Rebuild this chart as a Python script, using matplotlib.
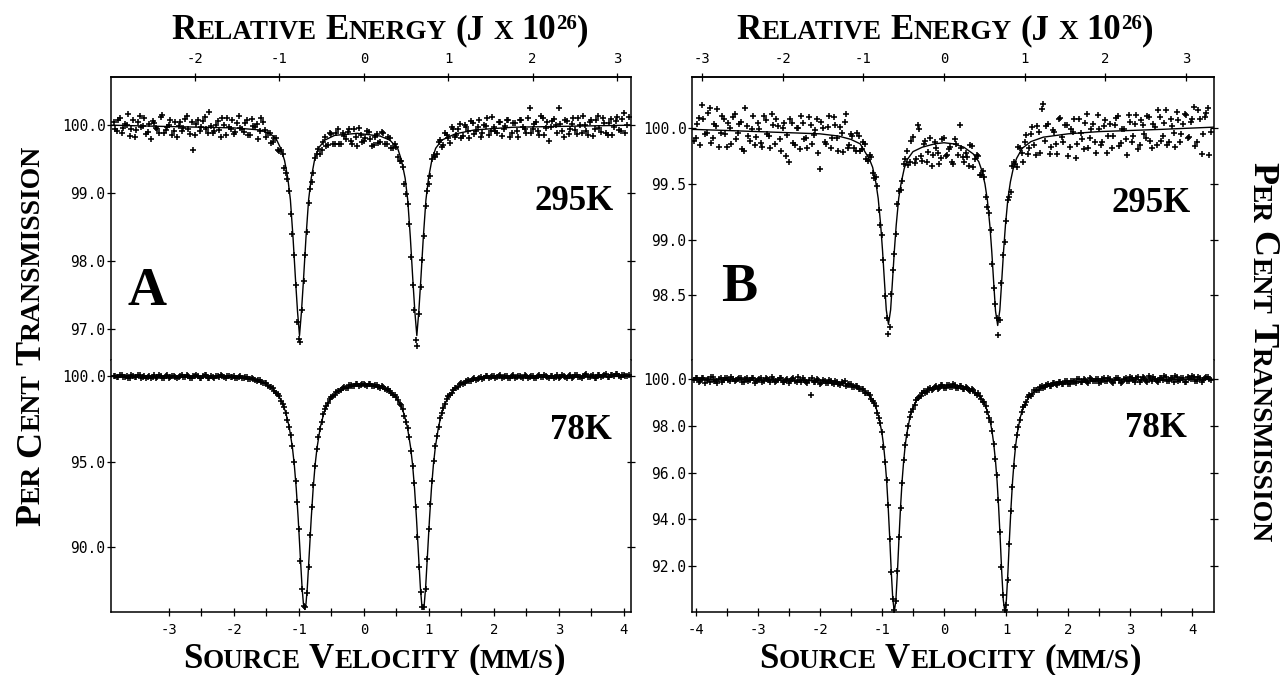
import matplotlib
matplotlib.use("Agg")
import matplotlib.pyplot as plt
import numpy as np
from matplotlib.ticker import FixedLocator, FormatStrFormatter
from matplotlib.transforms import IdentityTransform

# --- data ---------------------------------------------------------------------
# channel velocities (mm/s): two interleaved halves of the spectrum, panels A and B
VEL_A = [-3.85, -3.80, -3.75, -3.70, -3.65, -3.60, -3.55, -3.50, -3.45, -3.40,
         -3.35, -3.30, -3.25, -3.20, -3.15, -3.10, -3.05, -3.00, -2.95, -2.90,
         -2.85, -2.80, -2.75, -2.70, -2.65, -2.60, -2.55, -2.50, -2.45, -2.40,
         -2.35, -2.30, -2.25, -2.20, -2.15, -2.10, -2.05, -2.00, -1.95, -1.90,
         -1.85, -1.80, -1.75, -1.70, -1.65, -1.60, -1.55, -1.50, -1.45, -1.40,
         -1.35, -1.30, -1.25, -1.20, -1.15, -1.10, -1.05, -1.00, -0.95, -0.90,
         -0.85, -0.80, -0.75, -0.70, -0.65, -0.60, -0.55, -0.50, -0.45, -0.40,
         -0.35, -0.30, -0.25, -0.20, -0.15, -0.10, -0.05, 0.00, 0.05, 0.10,
         0.15, 0.20, 0.25, 0.30, 0.35, 0.40, 0.45, 0.50, 0.55, 0.60,
         0.65, 0.70, 0.75, 0.80, 0.85, 0.90, 0.95, 1.00, 1.05, 1.10,
         1.15, 1.20, 1.25, 1.30, 1.35, 1.40, 1.45, 1.50, 1.55, 1.60,
         1.65, 1.70, 1.75, 1.80, 1.85, 1.90, 1.95, 2.00, 2.05, 2.10,
         2.15, 2.20, 2.25, 2.30, 2.35, 2.40, 2.45, 2.50, 2.55, 2.60,
         2.65, 2.70, 2.75, 2.80, 2.85, 2.90, 2.95, 3.00, 3.05, 3.10,
         3.15, 3.20, 3.25, 3.30, 3.35, 3.40, 3.45, 3.50, 3.55, 3.60,
         3.65, 3.70, 3.75, 3.80, 3.85, 3.90, 3.95, 4.00, 4.05]
VEL_A2 = [-3.825, -3.775, -3.725, -3.675, -3.625, -3.575, -3.525, -3.475, -3.425, -3.375,
          -3.325, -3.275, -3.225, -3.175, -3.125, -3.075, -3.025, -2.975, -2.925, -2.875,
          -2.825, -2.775, -2.725, -2.675, -2.625, -2.575, -2.525, -2.475, -2.425, -2.375,
          -2.325, -2.275, -2.225, -2.175, -2.125, -2.075, -2.025, -1.975, -1.925, -1.875,
          -1.825, -1.775, -1.725, -1.675, -1.625, -1.575, -1.525, -1.475, -1.425, -1.375,
          -1.325, -1.275, -1.225, -1.175, -1.125, -1.075, -1.025, -0.975, -0.925, -0.875,
          -0.825, -0.775, -0.725, -0.675, -0.625, -0.575, -0.525, -0.475, -0.425, -0.375,
          -0.325, -0.275, -0.225, -0.175, -0.125, -0.075, -0.025, 0.025, 0.075, 0.125,
          0.175, 0.225, 0.275, 0.325, 0.375, 0.425, 0.475, 0.525, 0.575, 0.625,
          0.675, 0.725, 0.775, 0.825, 0.875, 0.925, 0.975, 1.025, 1.075, 1.125,
          1.175, 1.225, 1.275, 1.325, 1.375, 1.425, 1.475, 1.525, 1.575, 1.625,
          1.675, 1.725, 1.775, 1.825, 1.875, 1.925, 1.975, 2.025, 2.075, 2.125,
          2.175, 2.225, 2.275, 2.325, 2.375, 2.425, 2.475, 2.525, 2.575, 2.625,
          2.675, 2.725, 2.775, 2.825, 2.875, 2.925, 2.975, 3.025, 3.075, 3.125,
          3.175, 3.225, 3.275, 3.325, 3.375, 3.425, 3.475, 3.525, 3.575, 3.625,
          3.675, 3.725, 3.775, 3.825, 3.875, 3.925, 3.975, 4.025, 4.075]

VEL_B = [-4.00, -3.95, -3.90, -3.85, -3.80, -3.75, -3.70, -3.65, -3.60, -3.55,
         -3.50, -3.45, -3.40, -3.35, -3.30, -3.25, -3.20, -3.15, -3.10, -3.05,
         -3.00, -2.95, -2.90, -2.85, -2.80, -2.75, -2.70, -2.65, -2.60, -2.55,
         -2.50, -2.45, -2.40, -2.35, -2.30, -2.25, -2.20, -2.15, -2.10, -2.05,
         -2.00, -1.95, -1.90, -1.85, -1.80, -1.75, -1.70, -1.65, -1.60, -1.55,
         -1.50, -1.45, -1.40, -1.35, -1.30, -1.25, -1.20, -1.15, -1.10, -1.05,
         -1.00, -0.95, -0.90, -0.85, -0.80, -0.75, -0.70, -0.65, -0.60, -0.55,
         -0.50, -0.45, -0.40, -0.35, -0.30, -0.25, -0.20, -0.15, -0.10, -0.05,
         0.00, 0.05, 0.10, 0.15, 0.20, 0.25, 0.30, 0.35, 0.40, 0.45,
         0.50, 0.55, 0.60, 0.65, 0.70, 0.75, 0.80, 0.85, 0.90, 0.95,
         1.00, 1.05, 1.10, 1.15, 1.20, 1.25, 1.30, 1.35, 1.40, 1.45,
         1.50, 1.55, 1.60, 1.65, 1.70, 1.75, 1.80, 1.85, 1.90, 1.95,
         2.00, 2.05, 2.10, 2.15, 2.20, 2.25, 2.30, 2.35, 2.40, 2.45,
         2.50, 2.55, 2.60, 2.65, 2.70, 2.75, 2.80, 2.85, 2.90, 2.95,
         3.00, 3.05, 3.10, 3.15, 3.20, 3.25, 3.30, 3.35, 3.40, 3.45,
         3.50, 3.55, 3.60, 3.65, 3.70, 3.75, 3.80, 3.85, 3.90, 3.95,
         4.00, 4.05, 4.10, 4.15, 4.20, 4.25, 4.30]
VEL_B2 = [-4.025, -3.975, -3.925, -3.875, -3.825, -3.775, -3.725, -3.675, -3.625, -3.575,
          -3.525, -3.475, -3.425, -3.375, -3.325, -3.275, -3.225, -3.175, -3.125, -3.075,
          -3.025, -2.975, -2.925, -2.875, -2.825, -2.775, -2.725, -2.675, -2.625, -2.575,
          -2.525, -2.475, -2.425, -2.375, -2.325, -2.275, -2.225, -2.175, -2.125, -2.075,
          -2.025, -1.975, -1.925, -1.875, -1.825, -1.775, -1.725, -1.675, -1.625, -1.575,
          -1.525, -1.475, -1.425, -1.375, -1.325, -1.275, -1.225, -1.175, -1.125, -1.075,
          -1.025, -0.975, -0.925, -0.875, -0.825, -0.775, -0.725, -0.675, -0.625, -0.575,
          -0.525, -0.475, -0.425, -0.375, -0.325, -0.275, -0.225, -0.175, -0.125, -0.075,
          -0.025, 0.025, 0.075, 0.125, 0.175, 0.225, 0.275, 0.325, 0.375, 0.425,
          0.475, 0.525, 0.575, 0.625, 0.675, 0.725, 0.775, 0.825, 0.875, 0.925,
          0.975, 1.025, 1.075, 1.125, 1.175, 1.225, 1.275, 1.325, 1.375, 1.425,
          1.475, 1.525, 1.575, 1.625, 1.675, 1.725, 1.775, 1.825, 1.875, 1.925,
          1.975, 2.025, 2.075, 2.125, 2.175, 2.225, 2.275, 2.325, 2.375, 2.425,
          2.475, 2.525, 2.575, 2.625, 2.675, 2.725, 2.775, 2.825, 2.875, 2.925,
          2.975, 3.025, 3.075, 3.125, 3.175, 3.225, 3.275, 3.325, 3.375, 3.425,
          3.475, 3.525, 3.575, 3.625, 3.675, 3.725, 3.775, 3.825, 3.875, 3.925,
          3.975, 4.025, 4.075, 4.125, 4.175, 4.225, 4.275]

# per cent transmission, measured points (first and second half)
A295 = [100.04, 99.91, 100.11, 99.96, 100.01, 99.84, 100.08, 99.93, 100.13, 99.99,
        99.87, 100.02, 100.06, 99.96, 99.89, 100.15, 99.93, 100.01, 99.85, 100.05,
        99.99, 99.91, 100.09, 99.94, 100.04, 99.86, 100.08, 99.97, 100.12, 99.89,
        99.99, 99.92, 100.06, 99.83, 100.01, 100.10, 99.94, 99.87, 100.03, 99.96,
        99.90, 100.08, 99.86, 99.99, 100.02, 99.91, 100.04, 99.83, 99.89, 99.75,
        99.81, 99.62, 99.58, 99.29, 99.03, 98.40, 97.65, 96.85, 97.28, 98.08,
        98.85, 99.16, 99.51, 99.65, 99.63, 99.83, 99.71, 99.87, 99.73, 99.94,
        99.73, 99.84, 99.90, 99.77, 99.95, 99.69, 99.85, 99.76, 99.92, 99.79,
        99.71, 99.87, 99.75, 99.89, 99.73, 99.81, 99.66, 99.68, 99.47, 99.38,
        98.98, 98.54, 97.64, 96.83, 97.22, 98.01, 98.81, 99.13, 99.50, 99.53,
        99.75, 99.68, 99.88, 99.81, 99.97, 99.83, 99.95, 99.81, 100.01, 99.91,
        100.06, 99.87, 99.98, 99.82, 100.01, 100.10, 99.91, 99.97, 99.88, 100.04,
        99.94, 100.08, 99.83, 100.03, 99.92, 100.07, 99.98, 99.88, 100.26, 99.94,
        100.04, 99.86, 100.11, 99.96, 99.76, 100.06, 100.00, 100.25, 99.91, 100.08,
        99.87, 100.02, 99.93, 100.10, 99.89, 100.01, 99.85, 100.07, 99.95, 100.13,
        99.90, 100.03, 99.86, 100.09, 99.97, 100.12, 99.92, 100.18, 100.01]
A295_2 = [99.95, 100.07, 99.89, 100.02, 100.16, 99.94, 99.83, 100.05, 99.97, 100.10,
          99.90, 99.79, 100.03, 99.95, 100.12, 99.88, 99.98, 100.08, 99.92, 99.82,
          100.04, 99.96, 100.14, 99.87, 99.64, 100.02, 99.91, 100.06, 99.95, 100.19,
          99.88, 100.01, 99.93, 100.11, 99.85, 99.98, 100.07, 99.90, 100.13, 99.94,
          100.03, 99.86, 100.09, 99.97, 99.80, 100.11, 99.93, 99.88, 99.74, 99.81,
          99.64, 99.63, 99.37, 99.21, 98.69, 98.08, 97.10, 96.80, 97.70, 98.43,
          99.06, 99.29, 99.57, 99.58, 99.75, 99.69, 99.88, 99.72, 99.89, 99.72,
          99.88, 99.79, 99.94, 99.72, 99.83, 99.96, 99.75, 99.81, 99.90, 99.70,
          99.82, 99.74, 99.90, 99.73, 99.82, 99.66, 99.72, 99.53, 99.47, 99.14,
          98.84, 98.06, 97.27, 96.75, 97.62, 98.37, 99.03, 99.25, 99.56, 99.58,
          99.78, 99.71, 99.86, 99.74, 99.94, 99.85, 100.02, 99.84, 99.98, 99.81,
          100.03, 99.92, 100.08, 99.88, 99.99, 99.85, 100.12, 99.92, 100.04, 99.84,
          99.99, 100.07, 99.89, 100.03, 99.83, 100.07, 99.95, 100.11, 99.88, 100.02,
          99.92, 100.13, 99.85, 100.05, 99.97, 100.09, 99.89, 100.02, 99.82, 100.06,
          99.94, 100.10, 99.87, 100.01, 100.14, 99.91, 100.04, 99.84, 100.08, 99.96,
          100.11, 99.89, 100.03, 99.86, 100.06, 99.93, 100.09, 99.89, 100.12]

A78 = [100.01, 99.92, 100.05, 99.95, 99.99, 99.87, 100.02, 99.92, 100.06, 99.96,
       99.88, 100.00, 99.97, 99.89, 100.04, 99.91, 99.98, 99.86, 100.01, 99.94,
       99.93, 100.08, 99.96, 100.01, 99.88, 100.03, 99.98, 99.89, 100.04, 99.91,
       100.02, 99.89, 100.00, 100.05, 99.93, 100.02, 99.95, 100.00, 99.91, 99.98,
       99.89, 99.94, 99.82, 99.85, 99.72, 99.76, 99.59, 99.58, 99.35, 99.29,
       98.99, 98.81, 98.34, 97.86, 97.00, 95.90, 93.86, 91.06, 87.56, 86.48,
       88.83, 92.33, 94.75, 96.41, 97.31, 98.05, 98.40, 98.78, 98.92, 99.15,
       99.18, 99.34, 99.32, 99.46, 99.43, 99.53, 99.45, 99.53, 99.44, 99.52,
       99.44, 99.47, 99.33, 99.34, 99.17, 99.15, 98.91, 98.77, 98.39, 98.05,
       97.32, 96.41, 94.74, 92.33, 88.84, 86.47, 87.57, 91.06, 93.87, 95.90,
       97.01, 97.86, 98.35, 98.82, 98.99, 99.29, 99.34, 99.57, 99.59, 99.77,
       99.73, 99.88, 99.81, 99.93, 99.89, 99.99, 99.92, 100.00, 99.92, 100.04,
       99.94, 100.01, 99.91, 100.05, 99.94, 100.00, 99.88, 100.03, 99.92, 100.02,
       99.90, 100.05, 99.93, 99.99, 99.87, 100.02, 99.97, 99.90, 100.04, 99.92,
       100.00, 99.88, 100.06, 99.97, 99.90, 100.04, 99.94, 100.02, 99.88, 100.08,
       99.96, 100.04, 99.92, 100.07, 100.00, 100.11, 99.95, 100.05, 99.99]
A78_2 = [100.02, 99.93, 100.06, 99.97, 99.90, 100.04, 99.95, 100.08, 99.91, 100.02,
         99.96, 99.87, 100.05, 99.94, 100.01, 99.89, 100.06, 99.93, 99.99, 99.86,
         100.03, 99.95, 100.07, 99.90, 99.98, 100.04, 99.91, 99.99, 100.05, 99.88,
         99.97, 100.03, 99.92, 99.98, 99.87, 100.01, 99.94, 99.89, 99.97, 99.86,
         99.92, 99.83, 99.89, 99.75, 99.79, 99.63, 99.62, 99.43, 99.38, 99.12,
         98.97, 98.56, 98.20, 97.43, 96.57, 94.95, 92.63, 89.19, 86.58, 87.29,
         90.70, 93.62, 95.73, 96.89, 97.78, 98.23, 98.66, 98.84, 99.09, 99.15,
         99.31, 99.31, 99.45, 99.41, 99.51, 99.43, 99.53, 99.46, 99.53, 99.43,
         99.47, 99.35, 99.39, 99.25, 99.23, 99.01, 98.90, 98.58, 98.31, 97.69,
         96.99, 95.63, 93.72, 90.60, 87.38, 86.50, 89.29, 92.53, 95.05, 96.48,
         97.52, 98.12, 98.66, 98.89, 99.20, 99.30, 99.51, 99.53, 99.72, 99.71,
         99.84, 99.79, 99.91, 99.84, 99.98, 99.89, 99.98, 99.87, 99.98, 99.91,
         100.03, 99.89, 99.99, 99.91, 100.03, 99.94, 100.05, 99.90, 100.01, 99.89,
         100.03, 99.94, 100.07, 99.92, 100.00, 99.90, 100.06, 99.96, 100.03, 99.89,
         100.05, 99.94, 100.08, 99.92, 100.02, 100.10, 99.93, 100.04, 99.90, 100.07,
         100.00, 100.10, 99.95, 100.06, 100.13, 99.99, 100.07, 100.02, 100.09]

B295 = [99.91, 100.09, 100.21, 99.95, 100.14, 99.87, 100.04, 100.17, 99.96, 100.08,
        99.83, 100.00, 100.10, 99.90, 100.04, 99.81, 100.18, 99.93, 99.99, 99.85,
        100.05, 99.87, 100.11, 99.95, 99.82, 100.03, 100.08, 99.90, 100.00, 99.75,
        99.70, 100.05, 99.85, 100.00, 100.11, 99.90, 99.82, 100.03, 99.94, 100.08,
        99.63, 100.00, 99.86, 100.11, 99.91, 100.03, 99.80, 99.96, 100.06, 99.82,
        99.95, 99.82, 99.96, 99.80, 99.88, 99.72, 99.76, 99.60, 99.56, 99.27,
        99.04, 98.49, 98.15, 98.51, 98.87, 99.32, 99.45, 99.68, 99.80, 99.70,
        99.92, 99.72, 99.99, 99.71, 99.89, 99.79, 99.66, 99.88, 99.78, 99.73,
        99.91, 99.76, 99.83, 99.68, 99.86, 100.03, 99.74, 99.78, 99.66, 99.84,
        99.72, 99.75, 99.58, 99.56, 99.29, 99.09, 98.57, 98.30, 98.28, 98.86,
        99.17, 99.38, 99.66, 99.68, 99.83, 99.78, 99.88, 99.77, 99.95, 99.85,
        100.02, 99.78, 100.22, 100.02, 99.77, 99.98, 99.86, 100.08, 99.92, 100.03,
        99.75, 99.99, 100.08, 99.86, 99.96, 99.81, 100.13, 99.91, 100.04, 99.78,
        99.99, 99.88, 100.07, 99.93, 99.82, 100.03, 100.11, 99.87, 99.99, 99.76,
        100.06, 99.93, 100.12, 99.85, 100.03, 99.91, 100.10, 99.82, 100.01, 100.16,
        99.89, 100.05, 99.85, 100.08, 99.96, 100.15, 99.88, 100.04, 100.12, 99.92,
        100.08, 99.84, 100.16, 99.77, 100.10, 100.18, 99.97]
B295_2 = [99.89, 100.04, 99.85, 100.08, 99.96, 100.18, 99.91, 100.02, 99.83, 100.11,
          99.95, 100.05, 99.86, 100.13, 99.96, 100.06, 99.80, 100.02, 99.89, 100.11,
          99.92, 99.99, 99.83, 100.07, 99.93, 100.13, 99.86, 100.02, 99.80, 100.05,
          99.94, 100.08, 99.87, 100.00, 99.81, 100.05, 99.91, 100.10, 99.86, 99.98,
          99.78, 100.06, 99.88, 100.01, 99.82, 100.10, 99.91, 100.01, 99.79, 100.13,
          99.85, 99.93, 99.80, 99.93, 99.81, 99.86, 99.71, 99.74, 99.55, 99.48,
          99.13, 98.82, 98.30, 98.22, 98.73, 99.05, 99.44, 99.53, 99.72, 99.67,
          99.89, 99.69, 100.03, 99.75, 99.86, 99.70, 99.91, 99.76, 99.82, 99.68,
          99.90, 99.75, 99.81, 99.70, 99.90, 99.76, 99.82, 99.70, 99.74, 99.85,
          99.65, 99.76, 99.58, 99.62, 99.38, 99.24, 98.78, 98.42, 98.14, 98.61,
          98.98, 99.36, 99.43, 99.70, 99.65, 99.82, 99.70, 99.94, 99.82, 100.01,
          99.76, 99.97, 100.17, 99.89, 100.04, 99.83, 99.97, 99.77, 100.09, 99.88,
          100.03, 99.83, 99.97, 99.73, 100.08, 99.90, 100.05, 99.82, 99.99, 99.88,
          100.12, 99.85, 100.02, 99.78, 100.04, 99.93, 100.09, 99.84, 99.99, 99.90,
          100.12, 99.88, 100.04, 99.81, 100.07, 99.95, 100.11, 99.89, 100.04, 99.85,
          100.10, 99.93, 100.16, 99.88, 100.02, 99.83, 100.07, 99.95, 100.13, 99.91,
          100.06, 100.19, 99.88, 100.08, 99.95, 100.14, 99.76]

B78 = [100.03, 99.88, 100.06, 99.84, 100.00, 100.08, 99.92, 99.82, 100.03, 99.94,
       100.06, 99.90, 100.01, 99.95, 100.04, 99.88, 100.00, 99.92, 100.04, 99.84,
       99.97, 100.06, 99.90, 100.00, 99.86, 100.01, 99.92, 100.06, 99.88, 99.96,
       99.83, 100.01, 99.92, 100.08, 99.88, 99.96, 99.84, 99.31, 99.88, 100.01,
       99.79, 99.95, 99.83, 99.96, 99.83, 99.91, 99.77, 99.86, 99.90, 99.73,
       99.78, 99.65, 99.71, 99.56, 99.59, 99.38, 99.33, 99.04, 98.86, 98.34,
       97.74, 96.47, 94.61, 91.73, 90.12, 91.81, 94.48, 96.54, 97.60, 98.39,
       98.73, 99.09, 99.21, 99.41, 99.42, 99.59, 99.53, 99.67, 99.59, 99.73,
       99.63, 99.76, 99.65, 99.77, 99.61, 99.71, 99.59, 99.67, 99.51, 99.56,
       99.38, 99.38, 99.14, 99.00, 98.57, 98.16, 97.21, 95.88, 93.44, 90.78,
       90.34, 92.96, 95.40, 97.10, 97.94, 98.60, 98.88, 99.21, 99.29, 99.51,
       99.51, 99.67, 99.62, 99.76, 99.68, 99.83, 99.77, 99.89, 99.80, 99.93,
       99.78, 99.93, 99.85, 99.98, 99.89, 99.98, 99.85, 100.02, 99.90, 99.99,
       99.84, 100.01, 99.91, 100.06, 99.87, 99.97, 100.04, 99.84, 100.01, 99.91,
       100.09, 99.94, 100.02, 99.87, 100.07, 99.93, 100.11, 99.90, 100.00, 99.86,
       100.05, 100.12, 99.92, 100.03, 99.89, 100.10, 99.96, 100.05, 99.86, 100.02,
       100.11, 99.92, 100.07, 99.88, 100.03, 100.09, 99.94]
B78_2 = [99.94, 100.05, 99.90, 100.02, 99.96, 99.86, 100.07, 99.93, 100.01, 99.89,
         100.04, 99.97, 100.09, 99.91, 99.99, 100.05, 99.87, 100.02, 99.94, 100.06,
         99.90, 100.00, 99.85, 100.03, 99.95, 100.07, 99.89, 99.97, 100.04, 99.88,
         99.99, 99.91, 100.05, 99.87, 99.96, 100.02, 99.86, 99.95, 100.04, 99.88,
         99.94, 99.82, 99.91, 99.81, 99.91, 99.80, 99.87, 99.75, 99.83, 99.72,
         99.80, 99.66, 99.71, 99.57, 99.59, 99.41, 99.38, 99.13, 98.98, 98.54,
         98.10, 97.11, 95.69, 93.15, 90.59, 90.50, 93.24, 95.57, 97.19, 97.99,
         98.60, 98.87, 99.20, 99.26, 99.47, 99.44, 99.60, 99.55, 99.68, 99.60,
         99.73, 99.63, 99.75, 99.64, 99.74, 99.61, 99.70, 99.57, 99.63, 99.48,
         99.51, 99.32, 99.29, 99.01, 98.85, 98.34, 97.78, 96.57, 94.82, 91.98,
         90.12, 91.42, 94.34, 96.29, 97.62, 98.25, 98.79, 99.01, 99.30, 99.34,
         99.54, 99.53, 99.69, 99.64, 99.77, 99.70, 99.83, 99.76, 99.89, 99.80,
         99.93, 99.79, 99.93, 99.83, 99.98, 99.87, 99.97, 99.82, 100.01, 99.90,
         99.98, 99.86, 100.05, 99.90, 99.99, 99.84, 100.03, 99.97, 99.89, 100.06,
         99.92, 100.02, 99.87, 100.09, 99.95, 100.04, 99.87, 100.02, 100.10, 99.91,
         100.06, 99.94, 100.08, 99.90, 100.03, 100.12, 99.93, 100.06, 99.87, 100.08,
         100.00, 100.10, 99.91, 100.04, 99.95, 100.07, 99.99]

# fitted curves (solid lines)
FIT_A295_V = [-3.89, -3.00, -2.00, -1.60, -1.45, -1.35, -1.28, -1.22, -1.17, -1.13,
              -1.09, -1.05, -1.02, -0.99, -0.96, -0.93, -0.89, -0.85, -0.81, -0.76,
              -0.70, -0.60, -0.45, -0.10, 0.25, 0.40, 0.52, 0.58, 0.635, 0.675,
              0.715, 0.755, 0.785, 0.815, 0.845, 0.875, 0.915, 0.955, 0.995, 1.045,
              1.105, 1.20, 1.40, 1.70, 2.30, 4.11]
FIT_A295_T = [100.00, 99.98, 99.96, 99.93, 99.88, 99.80, 99.66, 99.48, 99.22, 98.90,
              98.35, 97.70, 97.25, 96.90, 97.25, 97.70, 98.35, 98.90, 99.22, 99.48,
              99.66, 99.78, 99.85, 99.88, 99.84, 99.78, 99.66, 99.48, 99.22, 98.90,
              98.35, 97.70, 97.25, 96.90, 97.25, 97.70, 98.35, 98.90, 99.22, 99.48,
              99.66, 99.78, 99.87, 99.93, 99.97, 100.00]

FIT_A78_V = [-3.89, -3.00, -2.50, -2.00, -1.70, -1.50, -1.40, -1.30, -1.25, -1.20,
             -1.15, -1.10, -1.07, -1.04, -1.01, -0.98, -0.95, -0.93, -0.91, -0.89,
             -0.87, -0.84, -0.81, -0.78, -0.75, -0.72, -0.67, -0.62, -0.57, -0.50,
             -0.40, -0.30, -0.15, 0.00, 0.15, 0.30, 0.40, 0.50, 0.57, 0.62,
             0.67, 0.72, 0.75, 0.78, 0.81, 0.84, 0.87, 0.89, 0.91, 0.93,
             0.95, 0.98, 1.01, 1.04, 1.07, 1.10, 1.15, 1.20, 1.25, 1.30,
             1.40, 1.50, 1.70, 2.00, 2.50, 3.00, 4.11]
FIT_A78_T = [99.98, 99.98, 99.96, 99.95, 99.82, 99.53, 99.25, 98.77, 98.39, 97.85,
             97.06, 95.85, 94.81, 93.43, 91.66, 89.61, 87.61, 86.69, 86.35, 86.69,
             87.61, 89.60, 91.65, 93.42, 94.80, 95.81, 97.01, 97.76, 98.27, 98.74,
             99.11, 99.31, 99.46, 99.50, 99.46, 99.31, 99.11, 98.74, 98.27, 97.76,
             97.01, 95.81, 94.80, 93.42, 91.65, 89.60, 87.61, 86.69, 86.35, 86.69,
             87.61, 89.61, 91.66, 93.43, 94.81, 95.85, 97.06, 97.85, 98.39, 98.77,
             99.25, 99.53, 99.82, 99.95, 99.96, 99.98, 99.98]

FIT_B295_V = [-4.06, -3.50, -3.00, -2.50, -2.00, -1.70, -1.50, -1.35, -1.20, -1.15,
              -1.10, -1.06, -1.02, -0.99, -0.96, -0.93, -0.895, -0.86, -0.83, -0.80,
              -0.77, -0.73, -0.69, -0.64, -0.59, -0.50, -0.35, -0.15, 0.00, 0.15,
              0.32, 0.47, 0.56, 0.61, 0.66, 0.70, 0.74, 0.77, 0.80, 0.83,
              0.865, 0.90, 0.93, 0.96, 0.99, 1.03, 1.07, 1.12, 1.17, 1.26,
              1.40, 1.60, 2.00, 2.50, 3.00, 3.50, 4.35]
FIT_B295_T = [99.99, 99.98, 99.97, 99.96, 99.95, 99.93, 99.90, 99.86, 99.72, 99.65,
              99.52, 99.37, 99.13, 98.90, 98.63, 98.37, 98.24, 98.37, 98.63, 98.90,
              99.13, 99.37, 99.51, 99.64, 99.72, 99.79, 99.83, 99.86, 99.87, 99.86,
              99.83, 99.77, 99.70, 99.62, 99.50, 99.35, 99.12, 98.89, 98.62, 98.36,
              98.23, 98.37, 98.63, 98.90, 99.13, 99.37, 99.52, 99.65, 99.73, 99.82,
              99.88, 99.92, 99.95, 99.97, 99.98, 99.99, 100.01]

FIT_B78_V = [-4.06, -3.00, -2.50, -2.00, -1.70, -1.50, -1.35, -1.25, -1.15, -1.10,
             -1.05, -1.00, -0.975, -0.95, -0.925, -0.90, -0.875, -0.85, -0.825, -0.80,
             -0.775, -0.75, -0.725, -0.70, -0.675, -0.65, -0.625, -0.60, -0.55, -0.50,
             -0.45, -0.40, -0.30, -0.20, -0.10, 0.00, 0.10, 0.20, 0.30, 0.40,
             0.50, 0.55, 0.60, 0.65, 0.70, 0.75, 0.775, 0.80, 0.83, 0.855,
             0.88, 0.905, 0.93, 0.955, 0.98, 1.005, 1.03, 1.055, 1.08, 1.105,
             1.13, 1.155, 1.18, 1.23, 1.28, 1.38, 1.48, 1.68, 1.98, 2.50,
             3.00, 4.35]
FIT_B78_T = [99.98, 99.96, 99.94, 99.92, 99.84, 99.75, 99.60, 99.43, 99.09, 98.81,
             98.38, 97.69, 97.20, 96.52, 95.68, 94.56, 93.24, 91.78, 90.59, 90.06,
             90.55, 91.76, 93.20, 94.53, 95.64, 96.49, 97.16, 97.65, 98.35, 98.78,
             99.05, 99.24, 99.47, 99.59, 99.66, 99.69, 99.70, 99.69, 99.65, 99.57,
             99.43, 99.33, 99.18, 98.95, 98.62, 98.11, 97.74, 97.26, 96.49, 95.64,
             94.53, 93.20, 91.75, 90.55, 90.06, 90.55, 91.75, 93.20, 94.53, 95.64,
             96.50, 97.17, 97.67, 98.37, 98.80, 99.27, 99.51, 99.74, 99.86, 99.94,
             99.96, 99.98]

# axis ticks
ENERGY_TICKS_A = [-2, -1, 0, 1, 2, 3]
ENERGY_TICKS_B = [-3, -2, -1, 0, 1, 2, 3]
VEL_TICKS_A = [-3, -2, -1, 0, 1, 2, 3, 4]
VEL_TICKS_B = [-4, -3, -2, -1, 0, 1, 2, 3, 4]
YT_A295 = [97.0, 98.0, 99.0, 100.0]
YT_A78 = [90.0, 95.0, 100.0]
YT_B295 = [98.5, 99.0, 99.5, 100.0]
YT_B78 = [92.0, 94.0, 96.0, 98.0, 100.0]

MMS_TO_J26 = 0.770          # 14.4 keV gamma: 1 mm/s = 0.77e-26 J

# --- figure -------------------------------------------------------------------
plt.rcParams['font.family'] = 'DejaVu Sans Mono'
plt.rcParams['axes.unicode_minus'] = False
SERIF = 'Liberation Serif'
W, H = 1281, 675
fig = plt.figure(figsize=(W / 100, H / 100), dpi=100)


def px_axes(x0, y0, x1, y1):
    # box given in pixels, origin top left
    return fig.add_axes([x0 / W, 1 - y1 / H, (x1 - x0) / W, (y1 - y0) / H])


def style(ax, xlim, ylim, yticks, upper):
    ax.set_xlim(*xlim)
    ax.set_ylim(*ylim)
    for s in ax.spines.values():
        s.set_linewidth(1.1)
    ax.yaxis.set_major_locator(FixedLocator(yticks))
    ax.yaxis.set_major_formatter(FormatStrFormatter('%.1f'))
    ax.tick_params(axis='y', direction='inout', length=6, width=0.9,
                   left=True, right=True, labelsize=10.5, pad=1)
    if upper:
        ax.spines['bottom'].set_visible(False)
        ax.tick_params(axis='x', which='both', bottom=False, top=False,
                       labelbottom=False)
    else:
        ax.spines['top'].set_visible(False)


def spectrum(ax, halves, fv, ft):
    ax.plot(fv, ft, color='k', lw=1.0)
    for vel, pts in halves:
        ax.plot(vel, pts, ls='none', marker='+', ms=5, mew=1.15, color='k')


def energy_axis(ax, ticks):
    sec = ax.secondary_xaxis('top', functions=(lambda v: v * MMS_TO_J26,
                                                lambda e: e / MMS_TO_J26))
    sec.set_xticks(ticks)
    sec.xaxis.set_major_formatter(FormatStrFormatter('%d'))
    sec.tick_params(direction='inout', length=6, width=0.9, labelsize=10, pad=5)
    sec.spines['top'].set_linewidth(1.1)


def velocity_axis(ax, ticks):
    ax.xaxis.set_major_locator(FixedLocator(ticks))
    ax.xaxis.set_minor_locator(FixedLocator([t + 0.5 for t in ticks]))
    ax.xaxis.set_major_formatter(FormatStrFormatter('%d'))
    ax.tick_params(axis='x', which='both', direction='inout', length=6, width=0.9,
                   top=False, labelsize=10, pad=5)


def caps_label(x, y, parts, rot=0):
    # small-caps text built from pieces of two sizes, centred at (x, y) pixels
    r = fig.canvas.get_renderer()
    th = np.radians(rot)
    u = np.array([np.cos(th), np.sin(th)])
    n = np.array([-np.sin(th), np.cos(th)])
    widths = []
    for s, size, rise in parts:
        if s == ' ':
            widths.append(size * 0.25 * 100 / 72)
            continue
        t = fig.text(0, 0, s, fontsize=size, family=SERIF, weight='bold')
        widths.append(t.get_window_extent(r).width)
        t.remove()
    start = np.array([x, y]) - u * sum(widths) / 2
    pos = 0.0
    for (s, size, rise), w in zip(parts, widths):
        if s != ' ':
            p = start + u * pos + n * rise
            fig.text(p[0], p[1], s, fontsize=size, family=SERIF, weight='bold',
                     rotation=rot, rotation_mode='anchor', ha='left',
                     va='baseline', transform=IdentityTransform())
        pos += w


XLIM_A = (-3.89, 4.11)
XLIM_B = (-4.06, 4.35)

axA1 = px_axes(111, 77, 631, 360)
axA2 = px_axes(111, 360, 631, 612)
axB1 = px_axes(692, 77, 1214, 360)
axB2 = px_axes(692, 360, 1214, 612)

style(axA1, XLIM_A, (96.54, 100.71), YT_A295, True)
style(axA2, XLIM_A, (86.2, 100.94), YT_A78, False)
style(axB1, XLIM_B, (97.92, 100.46), YT_B295, True)
style(axB2, XLIM_B, (90.04, 100.81), YT_B78, False)

spectrum(axA1, [(VEL_A, A295), (VEL_A2, A295_2)], FIT_A295_V, FIT_A295_T)
spectrum(axA2, [(VEL_A, A78), (VEL_A2, A78_2)], FIT_A78_V, FIT_A78_T)
spectrum(axB1, [(VEL_B, B295), (VEL_B2, B295_2)], FIT_B295_V, FIT_B295_T)
spectrum(axB2, [(VEL_B, B78), (VEL_B2, B78_2)], FIT_B78_V, FIT_B78_T)

energy_axis(axA1, ENERGY_TICKS_A)
energy_axis(axB1, ENERGY_TICKS_B)
velocity_axis(axA2, VEL_TICKS_A)
velocity_axis(axB2, VEL_TICKS_B)

# panel letters and temperatures (pixel positions, origin bottom left)
big = dict(family=SERIF, weight='bold', transform=IdentityTransform(), va='baseline')
fig.text(128, H - 305, 'A', fontsize=39, ha='left', **big)
fig.text(721, H - 301, 'B', fontsize=39, ha='left', **big)
fig.text(614, H - 210, '295K', fontsize=25, ha='right', **big)
fig.text(612, H - 439, '78K', fontsize=25, ha='right', **big)
fig.text(1191, H - 212, '295K', fontsize=25, ha='right', **big)
fig.text(1187, H - 437, '78K', fontsize=25, ha='right', **big)

BIG, SM = 25, 19.5
energy_title = [('R', BIG, 0), ('ELATIVE', SM, 0), (' ', BIG, 0), ('E', BIG, 0),
                ('NERGY', SM, 0), (' ', BIG, 0), ('(J', BIG, 0), (' ', BIG, 0),
                ('X', SM, 0), (' ', BIG, 0), ('10', BIG, 0), ('26', 15, 10),
                (')', BIG, 0)]
velocity_title = [('S', BIG, 0), ('OURCE', SM, 0), (' ', BIG, 0), ('V', BIG, 0),
                  ('ELOCITY', SM, 0), (' ', BIG, 0), ('(', BIG, 0), ('MM/S', SM, 0),
                  (')', BIG, 0)]
trans_title = [('P', 26, 0), ('ER', 20, 0), (' ', 26, 0), ('C', 26, 0),
               ('ENT', 20, 0), (' ', 26, 0), ('T', 26, 0), ('RANSMISSION', 20, 0)]

caps_label(380, H - 39, energy_title)
caps_label(945, H - 39, energy_title)
caps_label(374, 7, velocity_title)
caps_label(950, 7, velocity_title)
caps_label(40, H - 336, trans_title, rot=90)
caps_label(1253, H - 352, trans_title, rot=-90)

fig.savefig('out.png', dpi=100)
